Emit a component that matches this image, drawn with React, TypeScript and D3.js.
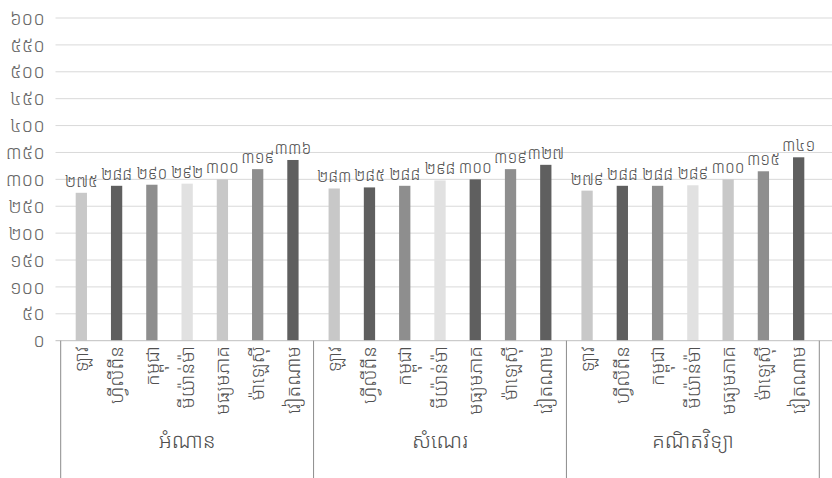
import React from "react";
import * as d3 from "d3";

const subjects = ["អំណាន", "សំណេរ", "គណិតវិទ្យា"];
const countries = ["ឡាវ", "ហ្វីលីពីន", "កម្ពុជា", "មីយ៉ាន់ម៉ា", "មធ្យមភាគ", "ម៉ាឡេស៊ី", "វៀតណាម"];
const readingValues = [275, 288, 290, 292, 300, 319, 336];
const writingValues = [283, 285, 288, 298, 300, 319, 327];
const mathValues = [279, 288, 288, 289, 300, 315, 341];
const yTicks = [0, 50, 100, 150, 200, 250, 300, 350, 400, 450, 500, 550, 600];

const LIGHT = "#c8c8c8";
const DARK = "#5f5f5f";
const MED = "#8e8e8e";
const VLIGHT = "#e1e1e1";
const readingColors = [LIGHT, DARK, MED, VLIGHT, LIGHT, MED, DARK];
const writingColors = [LIGHT, DARK, MED, VLIGHT, DARK, MED, DARK];
const mathColors = [LIGHT, DARK, MED, VLIGHT, LIGHT, MED, DARK];

const khmerDigits = ["០", "១", "២", "៣", "៤", "៥", "៦", "៧", "៨", "៩"];
const toKhmer = (n: number) =>
  String(n)
    .split("")
    .map((c) => khmerDigits[+c] ?? c)
    .join("");

const W = 832;
const H = 478;
const FONT = "'Noto Sans Khmer', 'Khmer OS', 'Noto Sans', 'DejaVu Sans', sans-serif";

export default function App() {
  const series = [readingValues, writingValues, mathValues];
  const colors = [readingColors, writingColors, mathColors];

  const y = d3.scaleLinear().domain([0, 600]).range([340.7, 18]);
  const gx = d3.scaleBand<string>().domain(subjects).range([60.7, 819.3]).padding(0);
  const inset = 3;
  const gw = gx.bandwidth();
  const bx = d3
    .scaleBand<string>()
    .domain(countries)
    .range([inset, gw - inset])
    .paddingInner(0.68)
    .paddingOuter(0.34);

  return (
    <div style={{ position: "absolute", left: 0, top: 0 }}>
      <svg width={W} height={H} style={{ display: "block", fontFamily: FONT, fontWeight: 300 }}>
        <rect width={W} height={H} fill="#ffffff" />
        {yTicks.map((t) => (
          <g key={t}>
            {t > 0 && (
              <line x1={55.5} x2={832} y1={y(t)} y2={y(t)} stroke="#d9d9d9" strokeWidth={1} />
            )}
            <text x={45} y={y(t)} dy="0.35em" textAnchor="end" fontSize={19} fill="#666666">
              {toKhmer(t)}
            </text>
          </g>
        ))}
        {subjects.map((s, gi) => {
          const g0 = gx(s)!;
          return (
            <g key={s}>
              {countries.map((c, i) => {
                const v = series[gi][i];
                const x = g0 + bx(c)!;
                const w = bx.bandwidth();
                return (
                  <g key={c}>
                    <rect x={x} y={y(v)} width={w} height={y(0) - y(v)} fill={colors[gi][i]} />
                    <text
                      x={x + w / 2}
                      y={y(v) - 6}
                      textAnchor="middle"
                      fontSize={16}
                      fill="#505050"
                    >
                      {toKhmer(v)}
                    </text>
                    <text
                      transform={`translate(${x + w / 2},${346}) rotate(-90)`}
                      textAnchor="end"
                      dy="0.35em"
                      fontSize={19}
                      fill="#505050"
                    >
                      {c}
                    </text>
                  </g>
                );
              })}
              <text
                x={g0 + gw / 2}
                y={448}
                textAnchor="middle"
                fontSize={21}
                fill="#505050"
              >
                {s}
              </text>
            </g>
          );
        })}
        <line x1={55.5} x2={832} y1={y(0)} y2={y(0)} stroke="#bfbfbf" strokeWidth={1} />
        {[...subjects.map((s) => gx(s)!), 819.3].map((xv, i) => (
          <line key={i} x1={xv} x2={xv} y1={y(0)} y2={H} stroke="#8c8c8c" strokeWidth={1} />
        ))}
      </svg>
    </div>
  );
}
